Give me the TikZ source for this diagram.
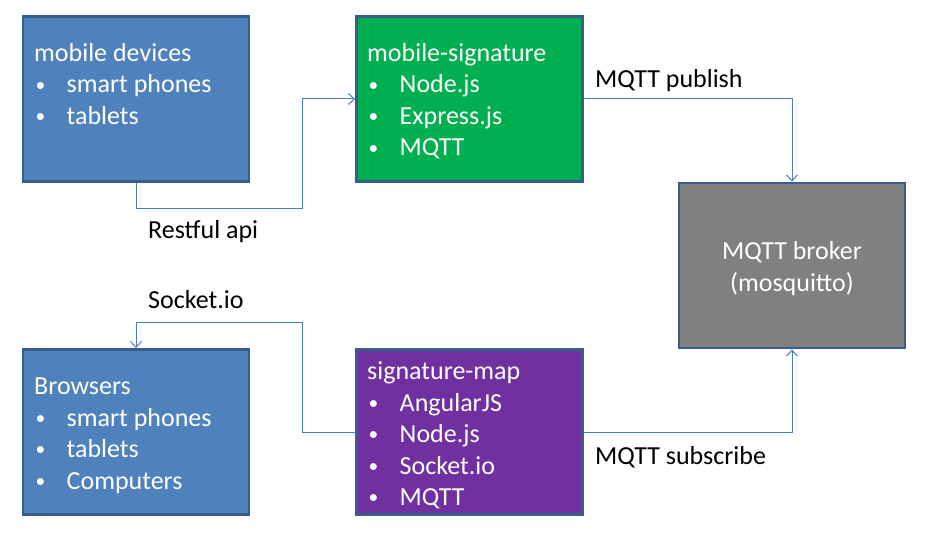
\documentclass[tikz,border=0pt]{standalone}
\usepackage{fontspec}
\setmainfont{Carlito}
\usetikzlibrary{arrows.meta}
\definecolor{pblue}{HTML}{4F81BD}
\definecolor{pgreen}{HTML}{00B050}
\definecolor{ppurple}{HTML}{7030A0}
\definecolor{pgray}{HTML}{808080}
\definecolor{pborder}{HTML}{385D8A}
\definecolor{pline}{HTML}{4A7EBB}
\newcommand{\bul}{\makebox[32.5pt][l]{\hspace{1.5pt}\raisebox{1.6pt}{\scalebox{0.75}{•}}}}
\tikzset{
  box/.style={draw=pborder, line width=2.8pt, minimum width=226pt, minimum height=165pt, inner sep=0pt},
  boxtext/.style={text=white, anchor=base west, inner sep=0pt, align=left, font=\fontsize{26pt}{31.5pt}\selectfont},
  lbl/.style={text=black, anchor=base west, inner sep=0pt, font=\fontsize{26pt}{31.5pt}\selectfont},
  conn/.style={draw=pline, line width=1pt, -{Straight Barb[length=6pt,width=11pt]}},
}
\begin{document}
\begin{tikzpicture}[x=1pt,y=-1pt]
\path[use as bounding box, fill=white] (0,0) rectangle (929,534);
% boxes
\node[box, fill=pblue] (md) at (136,99) {};
\node[box, fill=pgreen] (ms) at (469.5,99) {};
\node[box, fill=pgray] (mb) at (792,265.5) {};
\node[box, fill=pblue] (bw) at (136,432) {};
\node[box, fill=ppurple] (sm) at (469.5,432) {};
% box texts (base anchor = baseline of the last line)
\node[boxtext] (mdt) at (34,124.5) {mobile devices\\\bul smart phones\\\bul tablets};
\node[boxtext] (mst) at (367,156) {mobile-signature\\\bul Node.js\\\bul Express.js\\\bul MQTT};
\node[boxtext, anchor=base, align=center] (mbt) at (792,291.5) {MQTT broker\\(mosquitto)};
\node[boxtext] (bwt) at (34,489) {Browsers\\\bul smart phones\\\bul tablets\\\bul Computers};
\node[boxtext] (smt) at (367,505.5) {signature-map\\\bul AngularJS\\\bul Node.js\\\bul Socket.io\\\bul MQTT};
% connector waypoints
\coordinate (r1) at (136,209);
\coordinate (r2) at (302,209);
\coordinate (r3) at (302,99);
\coordinate (s1) at (302,432);
\coordinate (s2) at (302,323);
\coordinate (s3) at (136,323);
% connectors
\draw[conn] (md.south) -- (r1) -- (r2) -- (r3) -- (ms.west);
\draw[conn] (ms.east) -| (mb.north);
\draw[conn] (sm.east) -| (mb.south);
\draw[conn] (sm.west) -- (s1) -- (s2) -- (s3) -- (bw.north);
% labels
\node[lbl] (l1) at (148,239) {Restful api};
\node[lbl] (l2) at (595,87.5) {MQTT publish};
\node[lbl] (l3) at (148,309) {Socket.io};
\node[lbl] (l4) at (595,464) {MQTT subscribe};
\end{tikzpicture}
\end{document}
